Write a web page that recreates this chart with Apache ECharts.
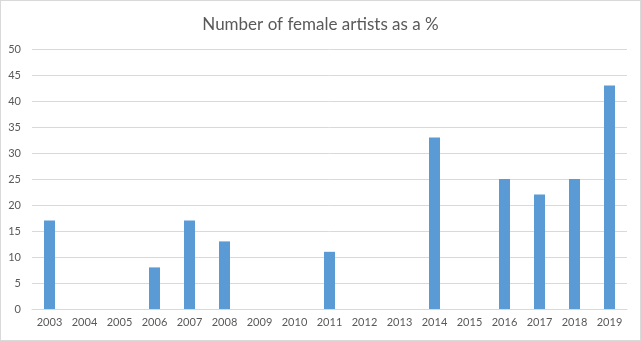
<!DOCTYPE html>
<html><head><meta charset="utf-8">
<script src="https://cdn.jsdelivr.net/npm/echarts@6/dist/echarts.min.js"></script>
<style>html,body{margin:0;padding:0;background:#fff}#c{width:641px;height:341px;box-sizing:border-box;border:1px solid #d9d9d9}</style>
</head><body><div id="c"></div>
<script>
const categories = ['2003','2004','2005','2006','2007','2008','2009','2010','2011','2012','2013','2014','2015','2016','2017','2018','2019'];
const values = [17,0,0,8,17,13,0,0,11,0,0,33,0,25,22,25,43];
const chart = echarts.init(document.getElementById('c'));
chart.setOption({
  animation:false,
  title:{text:'Number of female artists as a %',left:'center',top:10,textStyle:{fontFamily:'Lato',fontWeight:'normal',fontSize:17,color:'#595959'}},
  grid:{left:31,right:13,top:48,bottom:31},
  xAxis:{type:'category',data:categories,axisTick:{show:false},axisLine:{lineStyle:{color:'#d9d9d9'}},
    axisLabel:{color:'#595959',fontFamily:'Lato',fontSize:11,margin:8,interval:0}},
  yAxis:{type:'value',min:0,max:50,interval:5,axisLine:{show:false},axisTick:{show:false},
    splitLine:{lineStyle:{color:'#d9d9d9'}},axisLabel:{color:'#595959',fontFamily:'Lato',fontSize:11,margin:11}},
  series:[{type:'bar',data:values,barWidth:11,itemStyle:{color:'#5b9bd5'}}]
});
</script></body></html>
